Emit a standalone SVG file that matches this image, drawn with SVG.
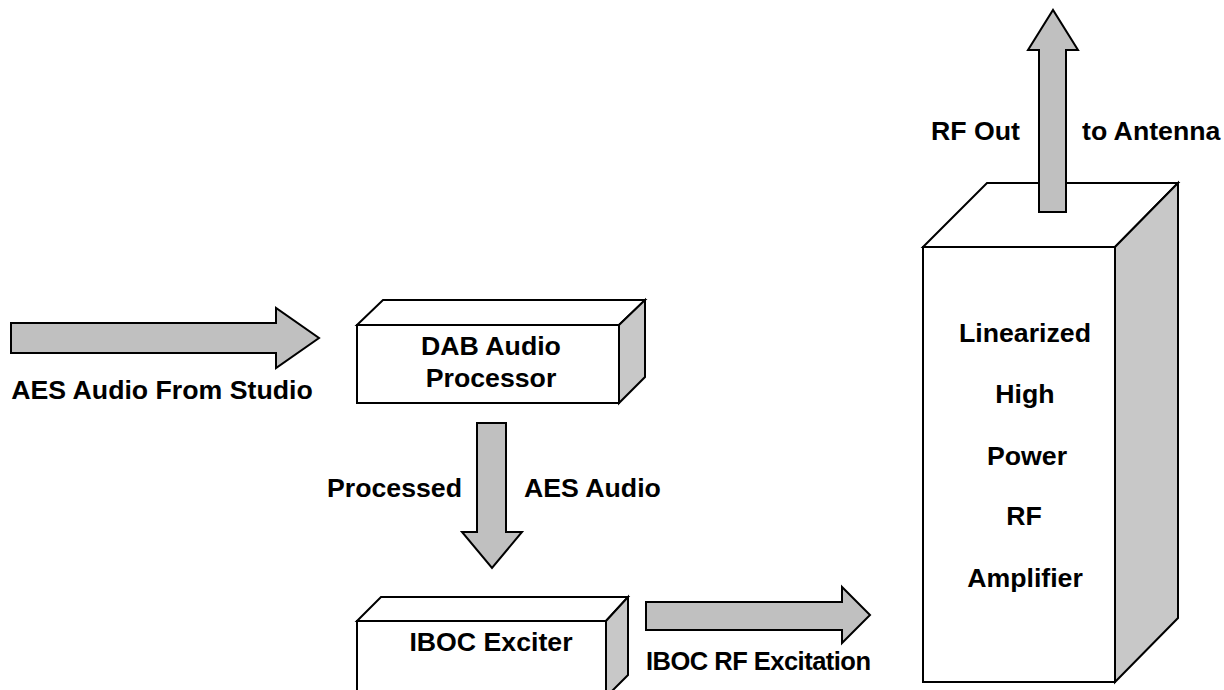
<svg xmlns="http://www.w3.org/2000/svg" width="1224" height="690" viewBox="0 0 1224 690">
<style>
.face{fill:#ffffff;stroke:#000;stroke-width:2;stroke-linejoin:miter}
.side{fill:#c8c8c8;stroke:#000;stroke-width:2}
.arrow{fill:#c0c0c0;stroke:#000;stroke-width:2;stroke-linejoin:miter}
text{font-family:"Liberation Sans",Arial,sans-serif;font-weight:bold;font-size:26.7px;fill:#000}
.m{text-anchor:middle}
.e{text-anchor:end}
</style>
<rect width="1224" height="690" fill="#fff"/>
<g id="dab">
<polygon class="face" points="357,325 383,300 645,300 619,325"/>
<polygon class="side" points="619,325 645,300 645,377 619,403"/>
<rect class="face" x="357" y="325" width="262" height="78"/>
<text class="m" x="491" y="355">DAB Audio</text>
<text class="m" x="491" y="387">Processor</text>
</g>
<g id="iboc">
<polygon class="face" points="357,621 381,597 628,597 606,621"/>
<polygon class="side" points="606,621 628,597 628,675 606,697"/>
<rect class="face" x="357" y="621" width="249" height="76"/>
<text class="m" x="491" y="651">IBOC Exciter</text>
</g>
<g id="amp">
<polygon class="face" points="923,247 987,183 1178,183 1115,247"/>
<polygon class="side" points="1115,247 1178,183 1178,618 1115,682"/>
<rect class="face" x="923" y="247" width="192" height="435"/>
<text class="m" x="1025" y="342">Linearized</text>
<text class="m" x="1025" y="403">High</text>
<text class="m" x="1027" y="465">Power</text>
<text class="m" x="1024" y="525">RF</text>
<text class="m" x="1025" y="587">Amplifier</text>
</g>
<g id="connectors">
<polygon class="arrow" points="11,323 276,323 276,308 319,338 276,368 276,353 11,353"/>
<polygon class="arrow" points="477,423 506,423 506,532 522,532 492,568 462,532 477,532"/>
<polygon class="arrow" points="646,602 842,602 842,587 870,615 842,643 842,630 646,630"/>
<polygon class="arrow" points="1039,212 1039,50 1028,50 1053,10 1078,50 1066,50 1066,212"/>
<text class="m" x="162" y="399">AES Audio From Studio</text>
<text class="e" x="462" y="497">Processed</text>
<text x="524" y="497">AES Audio</text>
<text x="646" y="670" textLength="225" style="font-size:25.5px">IBOC RF Excitation</text>
<text class="e" x="1020" y="140">RF Out</text>
<text x="1082" y="140">to Antenna</text>
</g>
</svg>
